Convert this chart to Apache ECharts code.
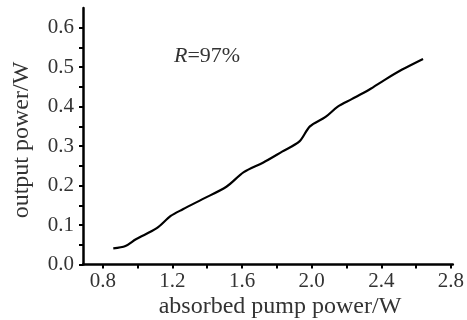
<!DOCTYPE html>
<html><head><meta charset="utf-8">
<script src="https://cdn.jsdelivr.net/npm/echarts@6/dist/echarts.min.js"></script>
<style>html,body{margin:0;padding:0;background:#fff}#c{width:467px;height:320px}</style>
</head><body><div id="c"></div>
<script>
const pumpPower = [0.86,0.93,0.99,1.11,1.19,1.26,1.37,1.51,1.61,1.72,1.83,1.93,1.99,2.08,2.15,2.23,2.33,2.42,2.52,2.64];
const outputPower = [0.041,0.047,0.064,0.092,0.123,0.140,0.165,0.197,0.234,0.258,0.286,0.312,0.350,0.374,0.400,0.419,0.443,0.468,0.494,0.521];
const xTickLabels = [0.8,1.2,1.6,2.0,2.4,2.8];
const xTicks = [0.8,1.0,1.2,1.4,1.6,1.8,2.0,2.2,2.4,2.6,2.8];
const yTickLabels = [0,0.1,0.2,0.3,0.4,0.5,0.6];
const yTicks = [0,0.05,0.1,0.15,0.2,0.25,0.3,0.35,0.4,0.45,0.5,0.55,0.6];
const xName = 'absorbed pump power/W';
const yName = 'output power/W';

const F = 'Liberation Serif, Times New Roman, serif';
const chart = echarts.init(document.getElementById('c'), null, {renderer:'canvas'});
chart.setOption({
  animation:false,
  backgroundColor:'#fff',
  grid:{left:83,right:12,top:8,bottom:55.5},
  xAxis:{type:'value',min:0.686,max:2.811,
    axisLine:{lineStyle:{color:'#000',width:2.5}},
    axisTick:{show:true,customValues:xTicks,length:4,lineStyle:{color:'#000',width:2}},
    axisLabel:{customValues:xTickLabels,color:'#333',fontFamily:F,fontSize:21,margin:6,
      formatter:v=>v.toFixed(1)},
    splitLine:{show:false}},
  yAxis:{type:'value',min:0,max:0.65,
    axisLine:{show:true,lineStyle:{color:'#000',width:2.5}},
    axisTick:{show:true,customValues:yTicks,length:4,lineStyle:{color:'#000',width:2}},
    axisLabel:{customValues:yTickLabels,color:'#333',fontFamily:F,fontSize:21,margin:9,
      formatter:v=>v.toFixed(1)},
    splitLine:{show:false}},
  graphic:[
    {type:'text',x:280,y:307,style:{text:xName,font:'24px '+F,fill:'#333',align:'center',verticalAlign:'middle'}},
    {type:'text',rotation:Math.PI/2,x:22,y:140,style:{text:yName,font:'24px '+F,fill:'#333',align:'center',verticalAlign:'middle'}},
    {type:'text',x:174,y:56,style:{rich:{i:{fontStyle:'italic',fontFamily:F,fontSize:22,fill:'#333'},n:{fontFamily:F,fontSize:22,fill:'#333'}},text:'{i|R}{n|=97%}',verticalAlign:'middle'}}
  ],
  series:[{type:'line',data:pumpPower.map((x,i)=>[x,outputPower[i]]),showSymbol:false,smooth:0.3,
    lineStyle:{color:'#000',width:2.2}}]
});
</script></body></html>
